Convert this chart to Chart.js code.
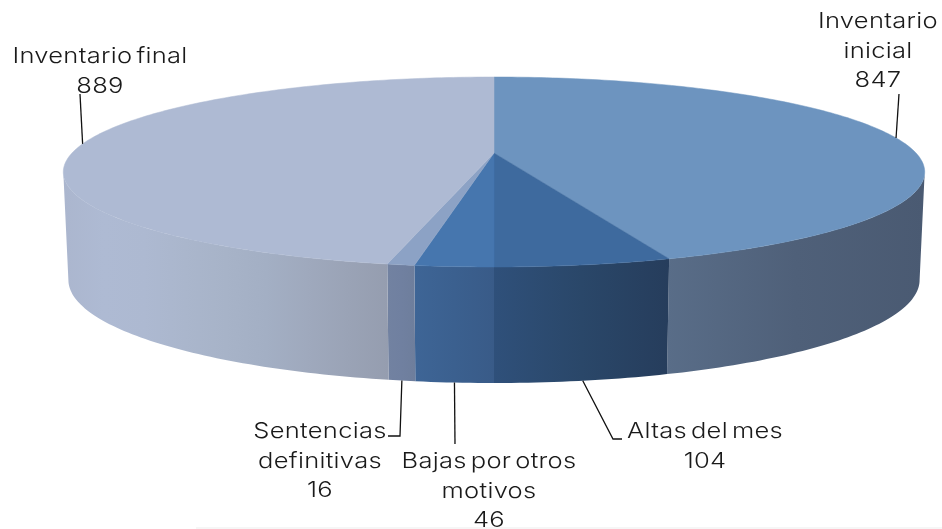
<!DOCTYPE html>
<html>
<head>
<meta charset="utf-8">
<style>
  body { margin: 0; background: #fff; overflow: hidden; }
  #wrap { position: relative; width: 942px; height: 529px; }
  #baseLine { position: absolute; left: 196px; right: 0; top: 527px; height: 2px; background: #f6f6f6; }
</style>
</head>
<body>
<div id="wrap">
  <canvas id="pie3d" width="942" height="529"></canvas>
  <div id="baseLine"></div>
</div>
<script src="https://cdn.jsdelivr.net/npm/chart.js@4"></script>
<script>
// Chart data
const categories = ['Inventario inicial', 'Altas del mes', 'Bajas por otros motivos', 'Sentencias definitivas', 'Inventario final'];
const values = [847, 104, 46, 16, 889];
const labelLines = [['Inventario', 'inicial'], ['Altas del mes'], ['Bajas por otros', 'motivos'], ['Sentencias', 'definitivas'], ['Inventario final']];

// Colours of the top face and of the side wall (left to right)
const topColors = ['#6d94bf', '#3e6a9e', '#4676ae', '#8ca2c5', '#aebad3'];
const sideStops = [
  ['#596d88', '#4f6079', '#4a5a72'],
  ['#2f507a', '#2a4769', '#263d5c'],
  ['#3e6596', '#3b608f', '#395b88'],
  ['#7282a1', '#7080a0', '#6e7e9c'],
  ['#abb6ce', '#aebad3', '#adb9d1', '#aab6cc', '#a7b3c8', '#a3afc4', '#9fa9bd', '#9aa3b6', '#959daf']
];

// Label placement: [centre x, first baseline y], and the leader line bend points
const labelPos = [[878, 28], [705, 438], [489, 468], [320, 438], [100, 63]];
const leaderEnds = [
  [[899, 94]],
  [[613, 439], [622, 439]],
  [[455, 444]],
  [[400, 436], [388, 436]],
  [[80, 94]]
];
const lineHeight = 29.5;
const textStretch = 1.16;

// Perspective of the disc: top rim and bottom rim of the extruded pie
const tilt = 0.2;
const topRim = { cx: 494, cy: 153, a: 422, b: 91.2 };
const bottomRim = { cx: 494, cy: 259.4, a: 417, b: 98.9 };

function project(rim, angle) {
  const w = 1 - tilt * Math.sin(angle);
  return {
    x: rim.cx + rim.a * Math.cos(angle) / w,
    y: rim.cy + rim.b * Math.sin(angle) / w,
  };
}

function arcPoints(rim, start, end) {
  const steps = Math.max(6, Math.ceil(Math.abs(end - start) * 60));
  const pts = [];
  for (let i = 0; i <= steps; i++) {
    pts.push(project(rim, start + (end - start) * i / steps));
  }
  return pts;
}

// The wall only shows between the two silhouette angles of the disc
const frontStart = Math.asin(tilt);
const frontEnd = Math.PI - frontStart;

function drawSide(ctx, arc, stops) {
  const start = Math.max(arc.startAngle, frontStart);
  const end = Math.min(arc.endAngle, frontEnd);
  if (end <= start) return;
  const all = arcPoints(topRim, start, end).concat(arcPoints(bottomRim, end, start));
  const xs = all.map((p) => p.x);
  const grad = ctx.createLinearGradient(Math.min(...xs), 0, Math.max(...xs), 0);
  stops.forEach((c, i) => grad.addColorStop(i / (stops.length - 1), c));
  ctx.beginPath();
  all.forEach((p, i) => (i ? ctx.lineTo(p.x, p.y) : ctx.moveTo(p.x, p.y)));
  ctx.closePath();
  ctx.fillStyle = grad;
  ctx.fill();
}

function drawTop(ctx, arc, color) {
  ctx.beginPath();
  ctx.moveTo(topRim.cx, topRim.cy);
  arcPoints(topRim, arc.startAngle, arc.endAngle).forEach((p) => ctx.lineTo(p.x, p.y));
  ctx.closePath();
  ctx.fillStyle = color;
  ctx.strokeStyle = color;
  ctx.lineWidth = 0.5;
  ctx.fill();
  ctx.stroke();
}

function drawLeader(ctx, arc, index) {
  const mid = (arc.startAngle + arc.endAngle) / 2;
  const start = project(Math.sin(mid) > tilt ? bottomRim : topRim, mid);
  ctx.beginPath();
  ctx.moveTo(start.x, start.y);
  leaderEnds[index].forEach((p) => ctx.lineTo(p[0], p[1]));
  ctx.strokeStyle = '#111';
  ctx.lineWidth = 1.3;
  ctx.stroke();
}

function drawLabel(ctx, index) {
  const [x, y] = labelPos[index];
  ctx.save();
  ctx.font = '300 22px Inter, Lato, sans-serif';
  ctx.letterSpacing = '0.25px';
  ctx.wordSpacing = '-3px';
  ctx.fillStyle = '#1a1a1a';
  ctx.textAlign = 'center';
  ctx.textBaseline = 'alphabetic';
  ctx.translate(x, 0);
  ctx.scale(textStretch, 1);
  const lines = labelLines[index].concat(String(values[index]));
  lines.forEach((line, i) => ctx.fillText(line, 0, y + i * lineHeight));
  ctx.restore();
}

// Chart.js works out the slice angles, this plugin only draws them tilted
const pie3dPlugin = {
  id: 'pie3d',
  beforeDatasetsDraw(chart) {
    const ctx = chart.ctx;
    const arcs = chart.getDatasetMeta(0).data;
    ctx.save();
    arcs.forEach((arc, i) => drawSide(ctx, arc, sideStops[i]));
    arcs.forEach((arc) => drawTop(ctx, arc, arc.options.backgroundColor));
    arcs.forEach((arc, i) => drawLeader(ctx, arc, i));
    arcs.forEach((arc, i) => drawLabel(ctx, i));
    ctx.restore();
    return false;
  },
};

const ctx = document.getElementById('pie3d').getContext('2d');
new Chart(ctx, {
  type: 'pie',
  data: {
    labels: categories,
    datasets: [{ data: values, backgroundColor: topColors, borderWidth: 0 }],
  },
  options: {
    responsive: false,
    animation: false,
    plugins: { legend: { display: false }, tooltip: { enabled: false } },
  },
  plugins: [pie3dPlugin],
});
</script>
</body>
</html>
